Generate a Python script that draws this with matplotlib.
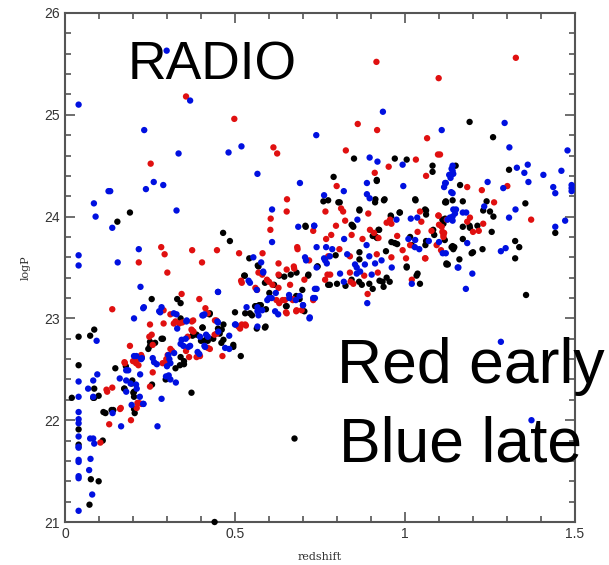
import numpy as np
import matplotlib
matplotlib.use("Agg")
import matplotlib.pyplot as plt
from matplotlib.ticker import MultipleLocator

# galaxies: (redshift, logP)
black_pts = [
    (0.191,24.04),(0.154,23.95),(0.465,23.84),(0.485,23.76),(0.542,23.59),(0.567,23.52),(0.527,23.42),(0.63,23.42),(0.664,23.43),
    (1.190,24.93),(1.259,24.78),(0.850,24.57),(0.970,24.57),(1.005,24.56),(1.081,24.50),(1.081,24.44),(1.149,24.50),(1.306,24.46),
    (0.790,24.39),(0.917,24.36),(0.913,24.17),(0.940,24.17),(0.774,24.16),(0.808,24.14),(1.030,24.17),(1.12,24.15),(1.14,24.16),
    (1.17,24.15),(1.162,24.31),(1.24,24.15),(1.25,24.05),(1.26,24.0),(1.23,24.06),(1.354,24.13),(1.442,23.84),(1.324,23.76),
    (1.336,23.70),(1.324,23.59),(1.17,23.9),(1.19,23.91),(1.228,23.68),(1.17,23.78),(1.20,23.65),(1.196,23.64),(1.16,23.58),
    (1.122,23.53),(1.062,24.06),(1.11,23.97),(0.984,24.04),(0.958,24.01),(0.924,23.87),(0.918,23.79),(0.866,24.07),(0.846,23.91),
    (0.708,23.90),(0.715,23.42),(0.742,23.51),(0.866,23.65),(0.866,23.58),(0.796,23.62),(0.944,23.66),(0.96,23.75),(0.97,23.74),
    (1.02,23.72),(1.06,23.72),(1.005,23.51),(1.037,23.44),(1.14,23.71),(1.145,23.70),(0.905,23.81),(0.707,23.91),
    (1.356,23.23),(0.80,23.34),(0.825,23.32),(0.865,23.36),(0.895,23.34),(0.937,23.31),(0.955,23.36),(0.925,23.37),(0.905,23.29),
    (0.040,22.82),(0.074,22.83),(0.086,22.89),(0.040,22.54),(0.020,22.22),(0.086,22.31),(0.086,22.22),(0.099,22.24),(0.040,21.91),
    (0.040,21.76),(0.111,21.80),(0.076,21.42),(0.099,21.40),(0.072,21.17),(0.440,21.0),(0.675,21.82),(0.113,22.08),(0.119,22.07),
    (0.137,22.10),(0.148,22.51),(0.179,22.53),(0.175,22.31),(0.198,22.39),(0.201,22.27),(0.203,22.23),(0.205,22.07),(0.256,22.35),
    (0.25,22.77),(0.25,22.73),(0.245,22.70),(0.288,22.80),(0.255,23.19),(0.33,23.19),(0.34,23.15),(0.34,23.0),(0.296,22.40),
    (0.34,22.62),(0.35,22.58),(0.35,22.55),(0.325,22.51),(0.372,22.27),(0.375,22.83),(0.40,22.78),(0.41,22.78),(0.42,22.78),
    (0.425,23.04),(0.45,22.9),(0.455,22.85),(0.46,22.76),(0.495,22.72),(0.500,23.06),(0.517,22.63),(0.530,23.05),(0.55,23.03),
    (0.562,23.12),(0.576,23.13),(0.590,22.92),(0.601,23.25),(0.615,23.33),(0.650,23.12),(0.68,23.22),(0.69,23.19),
    (0.529,23.42),(0.569,23.51),(0.588,23.35),(0.645,23.41),(0.681,23.45),(0.698,23.28),(0.716,23.43),(0.743,23.51),(0.774,23.33),
    (0.571,23.13),(0.559,23.12),(0.544,23.05),(0.591,23.09),(0.652,23.12),(0.704,23.07),(0.588,22.91),(0.564,22.90),(0.466,22.94),
    (0.426,23.05),(0.405,22.91),(0.387,22.84),(0.461,22.89),(0.466,22.79),(0.436,22.80),(0.415,22.79),(0.495,22.74),
    (0.917,24.35),(0.804,24.14),(0.866,24.06),(0.848,23.90),(0.912,24.14),(0.938,24.16),(0.959,24.0),(0.985,24.04),(1.031,24.16),
    (1.059,24.07),(1.062,24.02),(1.118,24.14),(0.922,23.87),(0.915,23.80),(0.843,23.92),(0.977,23.73),(1.015,23.80),(1.005,23.5),
    (1.062,23.76),(1.086,23.82),(1.083,23.87),(1.122,23.54),(0.946,23.40),(0.934,23.36),(0.873,23.33),(0.843,23.38),(0.779,23.33),
    (1.034,23.42),(1.044,23.34),(0.76,24.15),(1.121,24.14),(1.118,23.98),(1.191,23.89),(1.213,23.91),(1.255,23.85),(1.137,23.70),
    (1.142,23.68),(1.126,23.53),(1.117,23.77),(1.113,23.93),(0.083,22.22),(0.174,22.31),(0.196,22.36),(0.203,22.28),(0.265,22.76),
    (0.284,22.80),(0.404,22.91),(0.338,22.54),(0.142,22.10),(0.203,22.11),(0.416,22.79),
]

red_pts = [
    (0.356,25.18),(0.498,24.96),(0.613,24.68),(0.624,24.62),(0.252,24.52),(0.653,24.17),(0.652,24.05),(0.605,23.98),(0.604,23.87),
    (0.283,23.70),(0.293,23.63),(0.374,23.67),(0.447,23.67),(0.512,23.64),(0.581,23.64),(0.217,23.55),(0.403,23.55),(0.301,23.45),
    (0.628,23.54),(0.652,23.48),(0.674,23.49),(0.684,23.68),(0.58,23.43),
    (0.916,25.52),(1.326,25.56),(1.099,25.36),(0.861,24.91),(0.918,24.85),(1.065,24.77),(0.826,24.65),(1.097,24.61),(0.952,24.49),
    (1.032,24.56),(0.911,24.43),(1.062,24.40),(0.799,24.30),(1.183,24.29),(1.226,24.26),(1.301,24.30),(1.262,24.14),(1.371,23.97),
    (0.766,24.05),(0.818,24.05),(0.812,24.08),(0.824,23.96),(0.892,24.03),(0.797,23.91),(0.730,23.86),(0.783,23.82),(0.768,23.78),
    (0.843,23.82),(0.897,23.87),(0.946,23.94),(0.960,23.93),(0.977,23.81),(1.044,24.05),(1.048,23.95),(1.037,23.85),(1.078,23.86),
    (1.099,24.01),(1.10,23.92),(1.11,23.85),(1.191,23.99),(1.183,23.95),(1.20,23.85),(1.217,23.86),(1.23,23.93),(0.718,23.57),
    (0.774,23.61),(0.917,23.63),(0.96,23.60),(1.003,23.59),(1.060,23.59),(1.093,23.72),(0.78,23.43),(0.838,23.45),(0.88,23.42),
    (0.92,23.45),(0.875,23.78),(0.922,23.79),(0.909,23.84),(0.956,23.97),(1.098,24.01),(1.123,23.97),(1.113,23.82),(1.059,23.59),
    (0.772,23.43),(0.838,23.61),(0.807,23.68),(0.993,23.67),(1.015,23.72),(0.848,23.34),(1.108,23.90),(1.115,23.84),(1.113,23.80),
    (1.106,23.67),(1.103,24.61),(0.84,23.36),(0.89,23.24),(0.73,23.18),(1.02,23.38),
    (0.139,23.09),(0.104,21.78),(0.130,21.96),(0.124,22.28),(0.139,22.32),(0.164,22.12),(0.176,22.56),(0.191,22.73),(0.194,22.00),
    (0.20,22.58),(0.21,22.58),(0.226,22.62),(0.217,22.17),(0.25,22.94),(0.255,22.84),(0.258,22.74),(0.258,22.47),(0.25,22.33),
    (0.29,23.08),(0.29,22.95),(0.295,22.56),(0.298,22.60),(0.302,22.64),(0.310,23.04),(0.31,22.70),(0.315,22.68),(0.32,22.95),
    (0.325,22.97),(0.343,23.24),(0.345,22.96),(0.374,22.88),(0.365,22.62),(0.395,23.19),(0.413,23.10),(0.397,22.63),(0.426,22.70),
    (0.44,22.84),(0.445,22.98),(0.463,22.63),(0.51,22.92),(0.52,22.94),(0.53,22.94),(0.518,23.37),(0.56,23.30),(0.565,23.28),
    (0.60,23.36),(0.61,23.33),(0.64,23.18),(0.65,23.06),(0.67,23.18),(0.68,23.07),
    (0.683,23.70),(0.569,23.45),(0.520,23.35),(0.594,23.38),(0.628,23.43),(0.673,23.51),(0.704,23.38),(0.765,23.38),(0.662,23.33),
    (0.622,23.18),(0.647,23.18),(0.630,23.15),(0.670,23.19),(0.696,23.08),(0.681,23.08),(0.652,23.05),(0.532,22.93),(0.515,22.90),
    (0.441,22.98),(0.446,22.85),(0.372,22.89),(0.377,22.98),(0.42,22.71),(0.628,23.30),
    (0.336,22.95),(0.373,22.97),(0.224,22.64),(0.209,22.56),(0.216,22.54),(0.175,22.57),(0.248,22.82),(0.287,22.56),(0.122,22.30),
    (0.213,22.17),(0.225,22.16),(0.211,22.12),(0.162,22.11),(0.378,22.87),(0.361,22.82),(0.356,22.68),(0.387,22.62),(0.420,23.05),
]

blue_pts = [
    (0.299,25.63),(0.040,25.10),(0.368,25.14),(0.233,24.85),(0.519,24.69),(0.481,24.63),(0.334,24.62),(0.566,24.42),(0.261,24.34),
    (0.238,24.27),(0.289,24.31),(0.128,24.25),(0.133,24.25),(0.085,24.13),(0.090,24.00),(0.139,23.89),(0.328,24.06),(0.609,24.07),
    (0.609,23.75),(0.040,23.62),(0.040,23.52),(0.155,23.55),(0.217,23.68),(0.554,23.60),(0.583,23.45),(0.686,23.90),(0.691,24.33),
    (0.935,25.03),(0.739,24.80),(1.108,24.85),(1.293,24.92),(1.307,24.68),(1.478,24.65),(0.896,24.58),(0.919,24.54),(0.993,24.51),
    (1.14,24.50),(1.14,24.45),(1.13,24.41),(1.329,24.48),(1.361,24.51),(1.351,24.43),(1.363,24.34),(1.407,24.41),(1.460,24.45),
    (1.436,24.29),(1.442,24.23),(1.49,24.31),(1.49,24.25),(1.49,24.28),(1.12,24.33),(1.115,24.29),(1.14,24.23),(1.243,24.34),
    (1.289,24.28),(0.888,24.33),(0.995,24.30),(0.888,24.22),(0.896,24.18),(0.762,24.21),(0.820,24.25),(1.325,24.07),(1.306,23.99),
    (1.442,23.90),(1.471,23.96),(1.233,24.10),(1.18,24.04),(1.15,24.07),(1.14,24.0),(1.14,23.96),(1.17,24.04),(1.036,23.99),
    (1.017,23.98),(0.975,23.97),(0.860,23.97),(0.821,23.78),(0.733,23.91),(0.740,23.70),(0.786,23.68),(1.01,23.78),(1.03,23.77),
    (1.07,23.76),(1.10,23.75),(1.12,23.64),(1.183,23.74),(1.282,23.66),(1.296,23.69),(1.155,23.50),(1.198,23.44),(0.709,23.57),
    (0.765,23.57),(0.853,23.53),(0.858,23.50),(0.868,23.46),(0.882,23.53),(0.895,23.61),(0.912,23.54),(0.931,23.57),(0.961,23.50),
    (0.809,23.44),(0.858,23.44),(0.902,23.43),(0.74,23.5),(0.762,23.59),(0.779,23.61),(0.830,23.63),(0.887,23.72),(1.042,23.68),
    (1.029,23.70),(1.125,23.97),(1.142,24.07),(1.132,23.99),(1.147,24.03),(1.111,23.64),(1.157,23.50),(1.134,24.38),(1.142,24.42),
    (1.137,24.47),(1.118,24.33),(1.136,24.24),(0.733,23.91),
    (0.719,23.0),(0.73,23.2),(0.70,23.13),(0.735,23.29),(0.82,23.36),(0.889,23.15),(1.02,23.34),(1.179,23.29),(1.282,22.77),(1.372,22.0),
    (0.040,21.11),(0.040,21.43),(0.040,21.45),(0.040,21.59),(0.040,21.61),(0.071,21.51),(0.075,21.62),(0.080,21.27),(0.040,21.73),
    (0.040,21.74),(0.040,21.84),(0.040,21.97),(0.040,22.01),(0.040,22.08),(0.040,22.23),(0.040,22.38),(0.068,22.31),(0.083,22.39),
    (0.095,22.45),(0.083,22.23),(0.093,22.78),(0.074,21.82),(0.083,21.82),(0.086,21.77),(0.165,21.94),(0.161,22.41),(0.18,22.39),
    (0.18,22.49),(0.211,22.31),(0.21,22.63),(0.18,22.28),(0.203,23.0),(0.22,22.23),(0.23,22.16),(0.226,22.61),(0.23,23.1),
    (0.222,23.31),(0.272,21.94),(0.284,22.21),(0.262,22.57),(0.270,22.55),(0.258,22.61),(0.284,23.11),(0.28,23.06),(0.30,22.53),
    (0.305,22.44),(0.307,22.6),(0.31,22.56),(0.31,22.4),(0.32,23.05),(0.33,22.9),(0.34,22.75),(0.355,22.80),(0.357,22.97),
    (0.39,22.67),(0.41,23.04),(0.42,22.82),(0.41,22.73),(0.45,23.26),(0.45,22.96),(0.483,22.70),(0.50,22.94),(0.54,23.37),
    (0.566,23.11),(0.566,23.07),(0.566,22.92),(0.58,23.08),(0.60,23.2),(0.62,23.25),(0.66,23.2),(0.69,23.22),(0.140,22.07),
    (0.232,23.11),(0.277,23.07),(0.328,23.04),(0.358,22.98),(0.203,22.63),(0.224,22.60),(0.186,22.49),(0.221,22.45),(0.304,22.64),
    (0.321,22.66),(0.348,22.73),(0.363,22.72),(0.343,22.79),(0.395,22.65),(0.415,22.84),(0.407,23.03),(0.193,22.36),(0.209,22.35),
    (0.231,22.16),(0.297,22.43),(0.326,22.37),(0.196,22.15),
    (0.577,23.55),(0.583,23.46),(0.544,23.35),(0.564,23.28),(0.608,23.20),(0.595,23.18),(0.659,23.23),(0.679,23.18),(0.706,23.60),
    (0.740,23.29),(0.735,23.20),(0.700,23.13),(0.720,23.01),(0.627,23.04),(0.618,23.07),(0.569,23.03),(0.534,23.11),(0.502,22.94),
    (0.450,23.26),(0.404,23.03),(0.448,22.97),(0.451,22.87),(0.397,22.82),(0.412,22.72),(0.483,22.83),(0.471,22.71),(0.368,22.73),
    (0.768,23.70),(0.77,23.54),
]

W, H = 609, 565
fig = plt.figure(figsize=(W / 100, H / 100), dpi=100)
ax = fig.add_axes([65 / W, 1 - 522 / H, 510 / W, 509 / H])

for pts, col in [(black_pts, "black"), (red_pts, "#e01010"), (blue_pts, "#0010e0")]:
    arr = np.array(pts)
    ax.scatter(arr[:, 0], arr[:, 1], s=21, c=col, edgecolors="none", zorder=3, clip_on=False)

ax.set_xlim(0, 1.5)
ax.set_ylim(21, 26)
ax.xaxis.set_major_locator(MultipleLocator(0.5))
ax.xaxis.set_minor_locator(MultipleLocator(0.1))
ax.yaxis.set_major_locator(MultipleLocator(1))
ax.yaxis.set_minor_locator(MultipleLocator(0.2))
ax.set_xticks([0, 0.5, 1, 1.5])
ax.set_xticklabels(["0", "0.5", "1", "1.5"])
ax.tick_params(which="both", direction="in", top=True, right=True, color="#555555", width=1.2,
               labelsize=10, labelcolor="#333333")
ax.tick_params(which="major", length=7)
ax.tick_params(which="minor", length=4)
for t in ax.get_xticklabels() + ax.get_yticklabels():
    t.set_family("Liberation Sans")
for sp in ax.spines.values():
    sp.set_color("#555555")
    sp.set_linewidth(1.5)

ax.set_xlabel("redshift", family="DejaVu Serif", fontsize=8, color="#333333", labelpad=8)
ax.set_ylabel("logP", family="DejaVu Serif", fontsize=8, color="#333333", labelpad=10)

fig.text(128 / W, 1 - 80 / H, "RADIO", family="Liberation Sans", fontsize=38.5, va="baseline", ha="left")
fig.text(337 / W, 1 - 383 / H, "Red early", family="Liberation Sans", fontsize=45, va="baseline", ha="left")
fig.text(339 / W, 1 - 462 / H, "Blue late", family="Liberation Sans", fontsize=45, va="baseline", ha="left")

fig.savefig("out.png", dpi=100)
